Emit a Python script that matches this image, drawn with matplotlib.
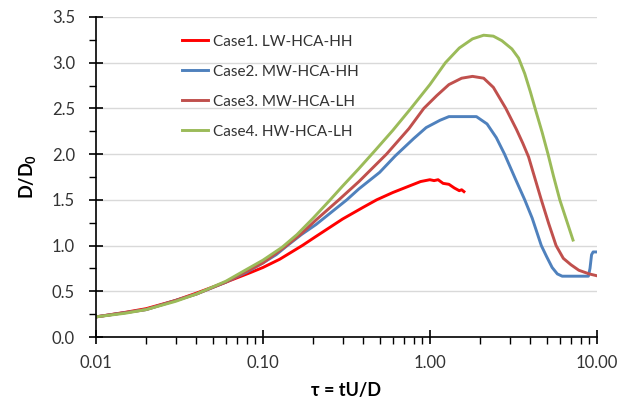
import matplotlib
matplotlib.use('Agg')
import matplotlib.pyplot as plt
from matplotlib.ticker import FixedLocator, MultipleLocator, LogLocator, NullFormatter

# values (tau, D/D0)
tau1 = [0.01, 0.015, 0.02, 0.03, 0.04, 0.06, 0.083, 0.1, 0.126, 0.172, 0.208, 0.3, 0.4,
        0.48, 0.6, 0.75, 0.88, 1.0, 1.06, 1.12, 1.2, 1.3, 1.4, 1.5, 1.55, 1.6]
d1 = [0.22, 0.27, 0.31, 0.40, 0.48, 0.60, 0.70, 0.76, 0.85, 1.00, 1.10, 1.29, 1.42,
      1.50, 1.58, 1.65, 1.70, 1.72, 1.71, 1.72, 1.68, 1.67, 1.63, 1.60, 1.61, 1.59]

tau2 = [0.01, 0.02, 0.04, 0.06, 0.08, 0.1, 0.12, 0.14, 0.17, 0.208, 0.318, 0.376, 0.5,
        0.62, 0.8, 0.95, 1.15, 1.3, 1.9, 2.2, 2.5, 2.8, 3.25, 3.7, 4.1, 4.65, 5.0, 5.4,
        5.8, 6.2, 8.9, 9.1, 9.3, 9.5, 10.0]
d2 = [0.22, 0.30, 0.47, 0.60, 0.71, 0.81, 0.90, 1.00, 1.12, 1.23, 1.50, 1.62, 1.80,
      1.98, 2.17, 2.29, 2.37, 2.41, 2.41, 2.33, 2.18, 2.00, 1.73, 1.50, 1.30, 1.00, 0.88, 0.76,
      0.69, 0.665, 0.665, 0.75, 0.90, 0.93, 0.93]

tau3 = [0.01, 0.02, 0.04, 0.06, 0.08, 0.1, 0.134, 0.17, 0.208, 0.285, 0.376, 0.55, 0.75,
        0.92, 1.1, 1.3, 1.55, 1.8, 2.1, 2.4, 2.85, 3.3, 3.6, 3.9, 4.25, 4.65, 5.15, 5.7,
        6.3, 7.0, 7.8, 9.0, 10.0]
d3 = [0.22, 0.30, 0.47, 0.60, 0.72, 0.81, 0.98, 1.13, 1.28, 1.50, 1.70, 2.00, 2.28,
      2.50, 2.64, 2.76, 2.83, 2.85, 2.83, 2.73, 2.50, 2.27, 2.12, 1.97, 1.74, 1.50, 1.24, 1.00,
      0.86, 0.79, 0.73, 0.69, 0.67]

tau4 = [0.01, 0.015, 0.02, 0.03, 0.04, 0.06, 0.08, 0.1, 0.13, 0.16, 0.2, 0.25, 0.3, 0.375,
        0.47, 0.6, 0.77, 1.0, 1.24, 1.5, 1.8, 2.1, 2.4, 2.7, 3.1, 3.4, 3.7, 4.0, 4.3, 4.7,
        5.1, 5.5, 6.0, 6.6, 7.2]
d4 = [0.22, 0.26, 0.30, 0.39, 0.47, 0.61, 0.74, 0.84, 0.98, 1.12, 1.30, 1.49, 1.65, 1.84,
      2.04, 2.26, 2.50, 2.76, 3.00, 3.16, 3.26, 3.30, 3.29, 3.24, 3.15, 3.05, 2.88, 2.68, 2.48,
      2.24, 2.00, 1.76, 1.50, 1.27, 1.06]

labels = ['Case1. LW-HCA-HH', 'Case2. MW-HCA-HH', 'Case3. MW-HCA-LH', 'Case4. HW-HCA-LH']
colors = ['#FF0000', '#4F81BD', '#C0504D', '#9BBB59']

plt.rcParams['font.family'] = ['Lato', 'DejaVu Sans']

fig = plt.figure(figsize=(6.23, 4.13), dpi=100)
ax = fig.add_axes([0.154, 0.184, 0.804, 0.775])

for t, d, lab, c in zip([tau1, tau2, tau3, tau4], [d1, d2, d3, d4], labels, colors):
    ax.plot(t, d, color=c, lw=2.1, label=lab, solid_joinstyle='round')

ax.set_xscale('log')
ax.set_xlim(0.01, 10)
ax.set_ylim(0, 3.5)
ax.xaxis.set_major_locator(FixedLocator([0.01, 0.1, 1, 10]))
ax.set_xticklabels(['0.01', '0.10', '1.00', '10.00'])
ax.xaxis.set_minor_locator(LogLocator(base=10, subs=range(2, 10)))
ax.xaxis.set_minor_formatter(NullFormatter())
ax.yaxis.set_major_locator(MultipleLocator(0.5))
ax.yaxis.set_minor_locator(MultipleLocator(0.25))
ax.yaxis.set_major_formatter(matplotlib.ticker.FormatStrFormatter('%.1f'))

ax.grid(axis='y', which='major', color='#D9D9D9', lw=1)
ax.set_axisbelow(True)
for s in ['top', 'right']:
    ax.spines[s].set_visible(False)
for s in ['left', 'bottom']:
    ax.spines[s].set_linewidth(1.2)

ax.tick_params(which='major', direction='inout', length=10, width=1.2, labelsize=12,
               colors='black', labelcolor='#333333')
ax.tick_params(which='minor', direction='out', length=5, width=1.0)
ax.tick_params(axis='x', which='major', pad=8)
ax.tick_params(axis='y', which='major', pad=10)

ax.set_xlabel('τ = tU/D', fontsize=13, fontweight='bold', labelpad=8)
ax.set_ylabel('D/D$_\\mathregular{0}$', fontsize=13, fontweight='bold', labelpad=10)

ax.legend(loc='upper left', bbox_to_anchor=(0.172, 0.945), frameon=False, fontsize=11,
          handlelength=1.7, handletextpad=0.3, labelspacing=1.05,
          borderpad=0, borderaxespad=0, labelcolor='#333333')

plt.savefig('out.png', dpi=100)
